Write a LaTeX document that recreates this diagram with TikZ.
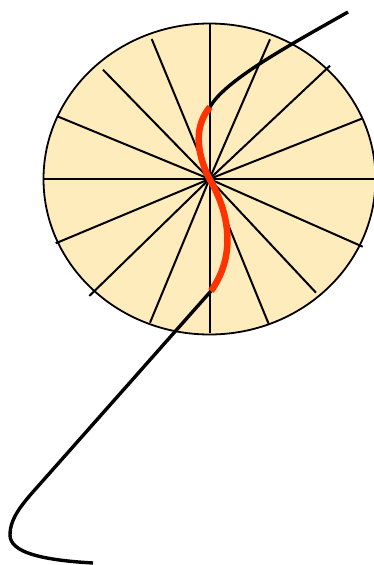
\documentclass[tikz,border=0pt]{standalone}
\usepackage{tikz}
\definecolor{disc}{RGB}{255,236,189}
\definecolor{redline}{RGB}{255,51,0}
\tikzset{
  spoke/.style={line width=2pt, black},
  rim/.style={line width=1.8pt, draw=black, fill=disc},
  wire/.style={line width=3.4pt, black},
  redwire/.style={line width=6.5pt, redline}
}
\begin{document}
\begin{tikzpicture}[x=1pt,y=-1pt]
\useasboundingbox (0,0) rectangle (374,565);
\clip (0,0) rectangle (374,565);
\coordinate (c) at (209.5,179);
\draw[rim] (c) ellipse [x radius=166, y radius=155.5];
\foreach \p in {(209.5,24),(151.7,39),(270,39.3),(103,69.7),(330,65.7),(57.3,116.3),(362.7,118.3),(43,179),(376,179),(55.7,243.3),(362.7,246.7),(89.3,296),(316,292.7),(150,322.7),(268.7,324),(209.5,333)}
  \draw[spoke] (c) -- \p;
\coordinate (a) at (210,107);
\coordinate (b) at (211,291);
\coordinate (t) at (348,12);
\coordinate (e) at (93,563);
\draw[wire] (a) .. controls (225,80) and (290,45) .. (t);
\draw[wire] (b) -- (40,484) .. controls (22,504) and (10,518) .. (10,535) .. controls (10,552) and (40,560) .. (e);
\draw[redwire] (a) .. controls (195,125) and (195,150) .. (c) .. controls (225,205) and (240,250) .. (b);
\end{tikzpicture}
\end{document}
